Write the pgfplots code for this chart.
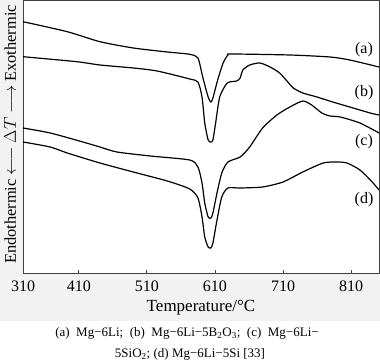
\documentclass[border=0pt]{standalone}
\usepackage{pgfplots}
\pgfplotsset{compat=1.18}
\usepackage{fontspec}
\setmainfont{Liberation Serif}
\begin{document}
\begin{tikzpicture}[x=1pt,y=1pt]
\useasboundingbox (0,0) rectangle (380,363);
\fill[black!5] (0,42) rectangle (380,363);
\begin{axis}[
  at={(23pt,90pt)}, anchor=south west,
  scale only axis, width=356pt, height=273pt,
  xmin=328, xmax=851, ymin=0, ymax=273,
  axis background/.style={fill=white},
  axis line style={line width=0.8pt, black!75},
  xtick={328,410,510,610,710,810},
  xticklabels={310,410,510,610,710,810},
  xtick pos=bottom, tick align=inside,
  major tick length=3pt,
  tick style={black!75, line width=0.8pt},
  ytick=\empty,
  /pgf/number format/assume math mode=true,
  xticklabel style={font=\fontsize{16}{18}\selectfont, anchor=base, yshift=-19pt},
  clip=true,
]
\addplot[black, line width=1.2pt, smooth, tension=0.4] coordinates {
(328,251.3) (393,241.3) (441,231.3) (490,225) (540,221) (573,218.7) (585,215)
(592,196) (600,176) (604,171) (607,175) (614,193) (622,210) (629,218) (635,219)
(720,218) (779,216) (808,213) (851,206)};
\addplot[black, line width=1.2pt, smooth, tension=0.4] coordinates {
(328,216.3) (407,211.3) (441,208) (490,205) (525,202) (573,194) (585,191)
(591,176) (595,150) (600,133) (604,131) (607,133) (611,150) (617,176) (628,190)
(642,192) (647,195) (651,203) (661,208) (676,210) (691,206) (705,200) (717,191)
(725,185) (739,180) (760,176) (783,171) (808,166) (838,160) (851,158)};
\addplot[black, line width=1.2pt, smooth, tension=0.4] coordinates {
(328,145) (368,140) (416,131) (441,126) (466,121) (515,117) (573,113) (585,106)
(591,90) (595,70) (600,56) (604,55) (607,60) (613,80) (620,100) (629,111)
(647,116) (661,126) (680,145) (701,158) (720,166) (739,172) (752,168) (767,160)
(779,157) (794,156) (823,150) (851,140)};
\addplot[black, line width=1.2pt, smooth, tension=0.4] coordinates {
(328,131) (368,126) (393,120) (441,110) (490,101) (540,92) (573,84) (585,75)
(591,56) (595,36) (600,26) (604,25) (607,30) (613,53) (620,76) (629,85)
(647,85) (680,86) (710,91) (739,101) (769,110) (789,111) (804,110) (823,103)
(841,91) (851,83)};
\node[font=\fontsize{16}{18}\selectfont] at (axis cs:829,223) {(a)};
\node[font=\fontsize{16}{18}\selectfont] at (axis cs:829,180) {(b)};
\node[font=\fontsize{16}{18}\selectfont] at (axis cs:829,131) {(c)};
\node[font=\fontsize{16}{18}\selectfont] at (axis cs:829,73) {(d)};
\end{axis}
\node[rotate=90, font=\fontsize{16.4}{18}\selectfont] at (10,228.5)
  {Endothermic $\longleftarrow$ $\Delta T$ $\longrightarrow$ Exothermic};
\node[anchor=base, font=\fontsize{17}{19}\selectfont] at (201,51.5) {Temperature/°C};
\node[anchor=base, font=\fontsize{13}{15}\selectfont] at (187,26)
  {(a)\ \ Mg−6Li;\ \ (b)\ \ Mg−6Li−5B\textsubscript{2}O\textsubscript{3};\ \ (c)\ \ Mg−6Li−};
\node[anchor=base, font=\fontsize{13}{15}\selectfont] at (190,5)
  {5SiO\textsubscript{2}; (d) Mg−6Li−5Si [33]};
\end{tikzpicture}
\end{document}
